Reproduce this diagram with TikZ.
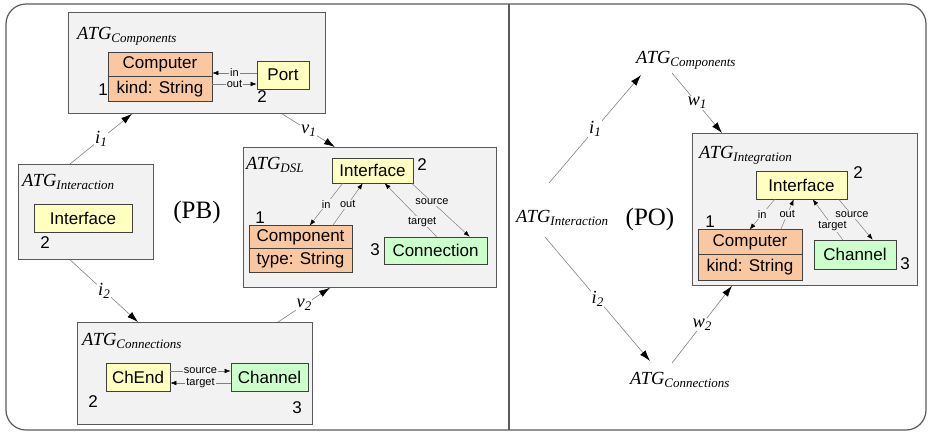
\documentclass[tikz,border=0pt]{standalone}
\usepackage{fontspec}
\setmainfont{Liberation Serif}
\setsansfont{Liberation Sans}
\usetikzlibrary{arrows.meta, shapes.multipart, calc, positioning}

\definecolor{boxgray}{HTML}{F2F2F2}
\definecolor{framegray}{HTML}{5A5A5A}
\definecolor{clsorange}{HTML}{FAC8A0}
\definecolor{clsyellow}{HTML}{FFFFC0}
\definecolor{clsgreen}{HTML}{CCFFCC}

\newcommand{\atg}[1]{{\fontsize{18.5}{20}\selectfont\itshape ATG\raisebox{-3pt}{\fontsize{13}{14}\selectfont #1}}}
\newcommand{\mapl}[2]{{\fontsize{18.5}{20}\selectfont\itshape #1\raisebox{-3pt}{\fontsize{13}{14}\selectfont #2}}}

\begin{document}
\begin{tikzpicture}[x=1pt, y=-1pt,
    graph/.style={draw=framegray, fill=boxgray, line width=0.8pt, anchor=north west, inner sep=0pt},
    cls/.style={draw=black!75, line width=0.6pt, font=\sffamily\fontsize{17}{20}\selectfont, inner sep=0pt},
    attrcls/.style={cls, fill=clsorange, rectangle split, rectangle split parts=2, inner xsep=2pt},
    num/.style={font=\sffamily\fontsize{17}{20}\selectfont, inner sep=0pt},
    assoc/.style={draw=gray, line width=0.5pt, -{Latex[black, length=6pt, width=4.5pt]}},
    alabel/.style={font=\sffamily\fontsize{11}{12}\selectfont, inner sep=1pt, fill=boxgray},
    morph/.style={draw=gray, line width=0.6pt, -{Latex[black, length=11pt, width=7pt]}},
    mlabel/.style={fill=white, inner sep=1pt},
    title/.style={anchor=base west, inner sep=0pt}]

    \useasboundingbox (0,0) rectangle (928,432);
    \draw[framegray, line width=1.2pt, rounded corners=20pt] (6,4) rectangle (926,430);
    \draw[framegray, line width=1.2pt] (509,4) -- (509,430);

    % pushout square (left)
    \node[graph, minimum width=257pt, minimum height=101pt] (gcomp) at (68,12) {};
    \node[graph, minimum width=135pt, minimum height=95pt] (gint) at (18,164) {};
    \node[graph, minimum width=253pt, minimum height=140pt] (gdsl) at (243,147) {};
    \node[graph, minimum width=235pt, minimum height=102pt] (gconn) at (77,322) {};

    \node[title] (tcompL) at (77,39) {\atg{Components}};
    \node[title] (tintL) at (22,186) {\atg{Interaction}};
    \node[title] (tdsl) at (246,169) {\atg{DSL}};
    \node[title] (tconnL) at (82,345) {\atg{Connections}};

    \node[attrcls, minimum width=104pt, inner ysep=4pt] (comp1) at (160,77) {Computer \nodepart{two} kind: String};
    \node[cls, fill=clsyellow, minimum width=52pt, minimum height=28pt] (port) at (283,75) {Port};
    \node[cls, fill=clsyellow, minimum width=98pt, minimum height=28pt] (ifc0) at (83,218) {Interface};
    \node[cls, fill=clsyellow, minimum width=81pt, minimum height=25pt] (ifcD) at (372.5,170.5) {Interface};
    \node[attrcls, minimum width=103pt, inner ysep=3.5pt] (compD) at (300.5,249) {Component \nodepart{two} type: String};
    \node[cls, fill=clsgreen, minimum width=103pt, minimum height=27pt] (connD) at (435.5,250.5) {Connection};
    \node[cls, fill=clsyellow, minimum width=64pt, minimum height=28pt] (chend) at (138,377) {ChEnd};
    \node[cls, fill=clsgreen, minimum width=77pt, minimum height=28pt] (chan) at (269.5,377) {Channel};

    \node[num] (n1a) at (103,90) {1};
    \node[num] (n2a) at (262,97) {2};
    \node[num] (n2b) at (45,243) {2};
    \node[num] (n2c) at (422,165) {2};
    \node[num] (n1c) at (260,218) {1};
    \node[num] (n3c) at (375,250) {3};
    \node[num] (n2d) at (93,402) {2};
    \node[num] (n3d) at (297,408) {3};

    \draw[assoc] ($(port.west)+(0,-2)$) -- ($(comp1.east |- port.west)+(0,-2)$) node[alabel, midway] {in};
    \draw[assoc] ($(comp1.east |- port.west)+(0,9)$) -- ($(port.west)+(0,9)$) node[alabel, midway] {out};
    \draw[assoc] ($(ifcD.south west)+(11,0)$) -- ($(compD.north west)+(61,0)$) node[alabel, midway] {in};
    \draw[assoc] ($(compD.north west)+(84,0)$) -- ($(ifcD.south west)+(31,0)$) node[alabel, midway] {out};
    \draw[assoc] ($(ifcD.south west)+(80,0)$) -- ($(connD.north west)+(86,0)$) node[alabel, pos=0.35] {source};
    \draw[assoc] ($(connD.north west)+(53,0)$) -- ($(ifcD.south west)+(53,0)$) node[alabel, pos=0.28] {target};
    \draw[assoc] ($(chend.east)+(0,-6)$) -- ($(chan.west |- chend.east)+(0,-6)$) node[alabel, midway] {source};
    \draw[assoc] ($(chan.west |- chend.east)+(0,6)$) -- ($(chend.east)+(0,6)$) node[alabel, midway] {target};

    \draw[morph] ($(gint.north west)+(52,0)$) -- ($(gcomp.south west)+(64,0)$) node[mlabel, midway] {\mapl{i}{1}};
    \draw[morph] ($(gint.south west)+(52,0)$) -- ($(gconn.north west)+(61,0)$) node[mlabel, midway] {\mapl{i}{2}};
    \draw[morph] ($(gcomp.south west)+(214,0)$) -- ($(gdsl.north west)+(92,0)$) node[mlabel, midway] {\mapl{v}{1}};
    \draw[morph] ($(gconn.north west)+(201,0)$) -- ($(gdsl.south west)+(87,0)$) node[mlabel, midway] {\mapl{v}{2}};

    \node[font=\fontsize{25}{28}\selectfont] (pb) at (197,212) {(PB)};

    % pushout object (right)
    \node[graph, minimum width=225pt, minimum height=152pt] (gintg) at (692,133) {};
    \node[title] (tintg) at (699,158) {\atg{Integration}};
    \node[title] (tcompR) at (636,63) {\atg{Components}};
    \node[title] (tintR) at (516,222) {\atg{Interaction}};
    \node[title] (tconnR) at (630,384) {\atg{Connections}};

    \node[cls, fill=clsyellow, minimum width=91pt, minimum height=28pt] (ifcI) at (801.5,185) {Interface};
    \node[attrcls, minimum width=104pt, inner ysep=4.5pt] (compI) at (750,255) {Computer \nodepart{two} kind: String};
    \node[cls, fill=clsgreen, minimum width=82pt, minimum height=29pt] (chanI) at (855,254.5) {Channel};

    \node[num] (n2i) at (858,173) {2};
    \node[num] (n1i) at (710,222) {1};
    \node[num] (n3i) at (905,264) {3};

    \draw[assoc] ($(ifcI.south west)+(19,0)$) -- ($(compI.north west)+(52,0)$) node[alabel, midway] {in};
    \draw[assoc] ($(compI.north west)+(83,0)$) -- ($(ifcI.south west)+(38,0)$) node[alabel, midway] {out};
    \draw[assoc] ($(ifcI.south west)+(83,0)$) -- ($(chanI.north west)+(59,0)$) node[alabel, pos=0.39] {source};
    \draw[assoc] ($(chanI.north west)+(29,0)$) -- ($(ifcI.south west)+(57,0)$) node[alabel, pos=0.34] {target};

    \draw[morph] ($(tintR.base west)+(33,-39)$) -- ($(tcompR.base west)+(5,12)$) node[mlabel, midway] {\mapl{i}{1}};
    \draw[morph] ($(tcompR.base west)+(36,10)$) -- ($(gintg.north west)+(30,0)$) node[mlabel, midway] {\mapl{w}{1}};
    \draw[morph] ($(tintR.base west)+(29,15)$) -- ($(tconnR.base west)+(20,-23)$) node[mlabel, midway] {\mapl{i}{2}};
    \draw[morph] ($(tconnR.base west)+(42,-21)$) -- ($(gintg.south west)+(40,0)$) node[mlabel, midway] {\mapl{w}{2}};

    \node[font=\fontsize{25}{28}\selectfont] (po) at (650,219) {(PO)};
\end{tikzpicture}
\end{document}
